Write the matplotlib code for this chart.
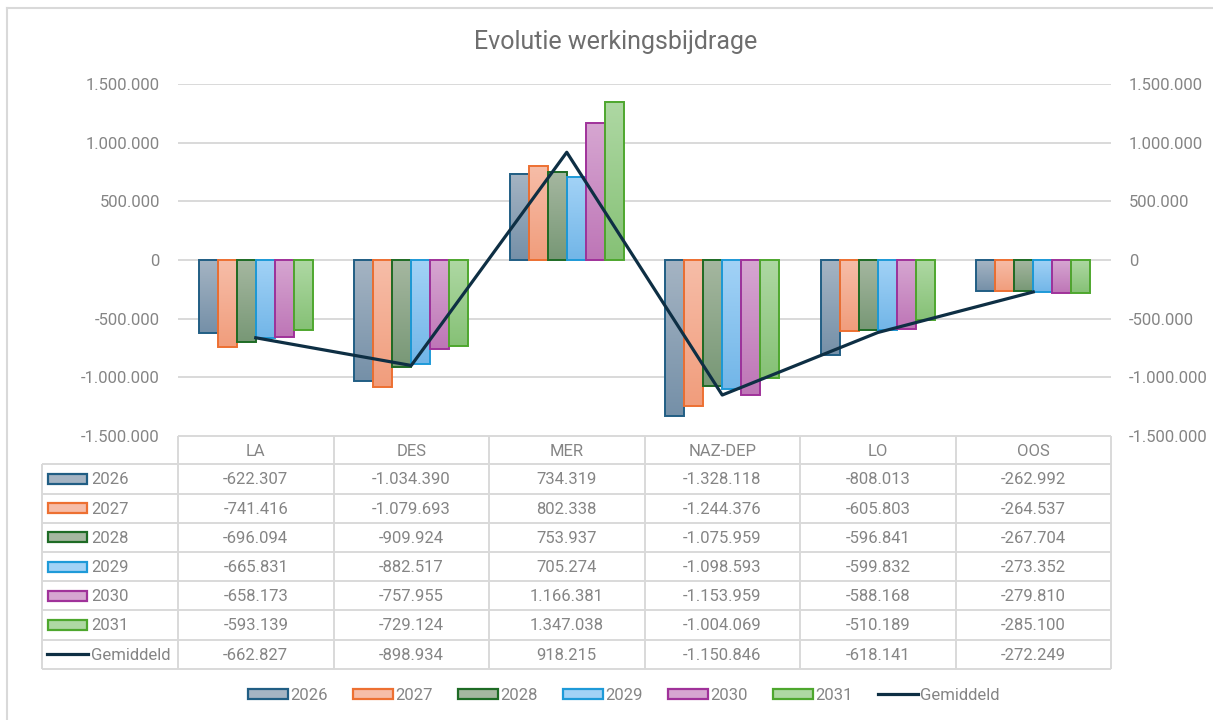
import numpy as np
import matplotlib
matplotlib.use("Agg")
import matplotlib.pyplot as plt
from matplotlib.colors import LinearSegmentedColormap
from matplotlib.patches import Rectangle
from matplotlib.lines import Line2D

# data (from the data table in the chart)
categories = ["LA", "DES", "MER", "NAZ-DEP", "LO", "OOS"]
years = ["2026", "2027", "2028", "2029", "2030", "2031"]
v2026 = [-622307, -1034390, 734319, -1328118, -808013, -262992]
v2027 = [-741416, -1079693, 802338, -1244376, -605803, -264537]
v2028 = [-696094, -909924, 753937, -1075959, -596841, -267704]
v2029 = [-665831, -882517, 705274, -1098593, -599832, -273352]
v2030 = [-658173, -757955, 1166381, -1153959, -588168, -279810]
v2031 = [-593139, -729124, 1347038, -1004069, -510189, -285100]
gemiddeld = [-662827, -898934, 918215, -1150846, -618141, -272249]
series = [v2026, v2027, v2028, v2029, v2030, v2031]

# styling
edge_cols = ["#215E84", "#ED7032", "#1E6B25", "#1E9AD8", "#A0329A", "#4EA72E"]
top_cols = ["#A5B4C3", "#F6BDA8", "#A5B7A0", "#A2D2F6", "#D6A6D1", "#AED8A3"]
bot_cols = ["#7590A8", "#F19D7C", "#789876", "#72B6E8", "#BE76B7", "#86C176"]
line_col = "#0E2F44"
txt_col = "#858585"
grid_col = "#D9D9D9"

plt.rcParams["font.family"] = ["Roboto", "DejaVu Sans"]

W, H = 1213, 720
fig = plt.figure(figsize=(W / 100, H / 100), dpi=100)

# layout in pixels
pl, pr, pt, pb = 178, 1111, 84, 436
ax = fig.add_axes([pl / W, 1 - pb / H, (pr - pl) / W, (pb - pt) / H])
ax2 = ax.twinx()

def fmt(v):
    return f"{v:,.0f}".replace(",", ".")

x = np.arange(len(categories))
bw = 0.122
grad = np.linspace(0, 1, 64).reshape(-1, 1)

for i, vals in enumerate(series):
    xs = x + (i - 2.5) * bw
    bars = ax.bar(xs, vals, width=bw, facecolor="none", edgecolor=edge_cols[i],
                  linewidth=1.4, zorder=3)
    cmap = LinearSegmentedColormap.from_list("g%d" % i, [top_cols[i], bot_cols[i]])
    for b in bars:
        y0 = b.get_y()
        y1 = y0 + b.get_height()
        ax.imshow(grad, cmap=cmap, origin="upper", aspect="auto", zorder=2,
                  extent=[b.get_x(), b.get_x() + bw, min(y0, y1), max(y0, y1)])

ax2.plot(x, gemiddeld, color=line_col, lw=2.3, zorder=5)

yt = np.arange(-1500000, 1500001, 500000)
for a in (ax, ax2):
    a.set_xlim(-0.5, len(categories) - 0.5)
    a.set_ylim(-1500000, 1500000)
    a.set_yticks(yt)
    a.set_yticklabels([fmt(v) for v in yt])
    a.set_xticks([])
    for s in a.spines.values():
        s.set_visible(False)
ax.tick_params(axis="y", length=0, pad=13, labelsize=12, labelcolor=txt_col)
ax2.tick_params(axis="y", length=0, pad=13, labelsize=12, labelcolor=txt_col)
ax.set_axisbelow(True)
ax.grid(axis="y", color=grid_col, lw=1.4)

fig.text(0.5 + 9 / W, 1 - 42 / H, "Evolutie werkingsbijdrage", ha="center", va="center",
         fontsize=18, color="#6E6E6E")

# data table under the plot, in pixel coordinates
ov = fig.add_axes([0, 0, 1, 1], zorder=-1)
ov.set_xlim(0, W)
ov.set_ylim(H, 0)
ov.axis("off")

tl = 42
row_h = 29.2
hdr_top, hdr_bot = pb, 464.3
n_rows = len(years) + 1
tab_bot = hdr_bot + n_rows * row_h
cw = (pr - pl) / len(categories)
lkw = dict(color=grid_col, lw=1.4, solid_capstyle="butt")

ov.plot([pl, pr], [hdr_top, hdr_top], **lkw)
for r in range(n_rows + 1):
    yy = hdr_bot + r * row_h
    ov.plot([tl, pr], [yy, yy], **lkw)
ov.plot([tl, tl], [hdr_bot, tab_bot], **lkw)
for c in range(len(categories) + 1):
    xx = pl + c * cw
    ov.plot([xx, xx], [hdr_top, tab_bot], **lkw)

for c, cat in enumerate(categories):
    ov.text(pl + (c + 0.5) * cw, (hdr_top + hdr_bot) / 2 + 1, cat, ha="center", va="center",
            fontsize=12, color=txt_col)

rows = series + [gemiddeld]
labels = years + ["Gemiddeld"]
for r, (lab, vals) in enumerate(zip(labels, rows)):
    yc = hdr_bot + (r + 0.5) * row_h
    if r < len(years):
        ov.add_patch(Rectangle((48, yc - 5), 39, 10, facecolor=top_cols[r],
                               edgecolor=edge_cols[r], lw=1.6))
    else:
        ov.plot([47, 88], [yc, yc], color=line_col, lw=2.3)
    ov.text(91, yc + 1, lab, ha="left", va="center", fontsize=12, color=txt_col)
    for c, v in enumerate(vals):
        ov.text(pl + (c + 0.5) * cw, yc + 1, fmt(v), ha="center", va="center",
                fontsize=12, color=txt_col)

# outer chart border (top and left visible)
ov.plot([7, W], [8, 8], color=grid_col, lw=1.5)
ov.plot([7, 7], [8, H], color=grid_col, lw=1.5)

# legend
handles = [Rectangle((0, 0), 1, 1, facecolor=top_cols[i], edgecolor=edge_cols[i], lw=1.6)
           for i in range(len(years))]
handles.append(Line2D([], [], color=line_col, lw=2.3))
fig.legend(handles, years + ["Gemiddeld"], loc="center", ncol=7, frameon=False,
           bbox_to_anchor=(624 / W, 1 - 695 / H), fontsize=12, labelcolor=txt_col,
           handlelength=2.4, handleheight=0.55, handletextpad=0.15, columnspacing=1.5)

fig.savefig("out.png", dpi=100)
